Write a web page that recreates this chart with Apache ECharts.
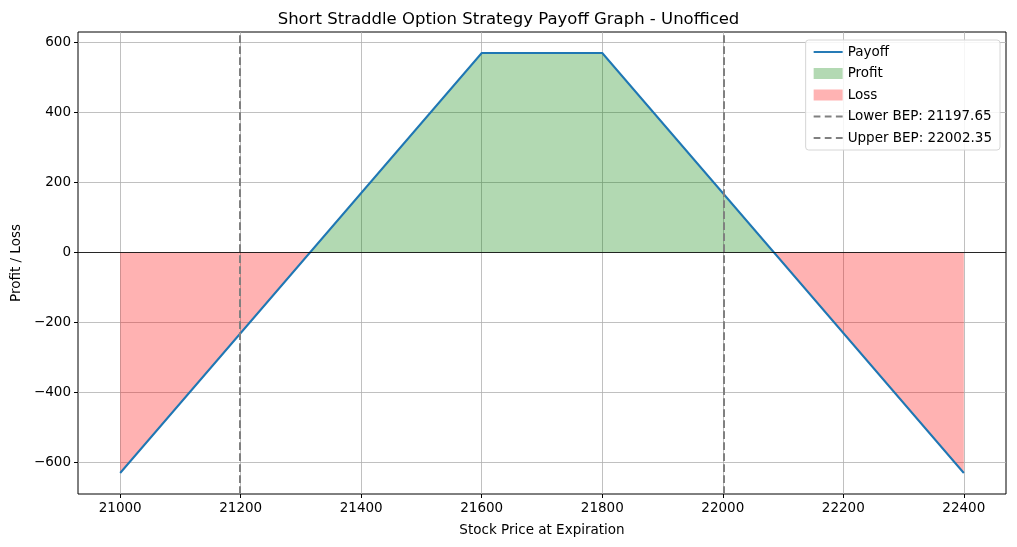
<!DOCTYPE html>
<html><head><meta charset="utf-8">
<script src="https://cdn.jsdelivr.net/npm/echarts@6/dist/echarts.min.js"></script>
<style>html,body{margin:0;padding:0;background:#fff}#c{width:1017px;height:547px}</style>
</head><body><div id="c"></div>
<script>
// Payoff vertices (price, P/L)
const prices = [21000, 21315, 21600, 21800, 22085, 22400];
const payoff = [-630, 0, 570, 570, 0, -630];
const profitPrices = [21315, 21600, 21800, 22085];
const profitVals = [0, 570, 570, 0];
const lossLeftPrices = [21000, 21315];
const lossLeftVals = [-630, 0];
const lossRightPrices = [22085, 22400];
const lossRightVals = [0, -630];
const lowerBEP = 21197.65;
const upperBEP = 22002.35;
const xTicks = [21000, 21200, 21400, 21600, 21800, 22000, 22200, 22400];
const yTicks = [-600, -400, -200, 0, 200, 400, 600];

const zip = (a, b) => a.map((v, i) => [v, b[i]]);
const font = 'DejaVu Sans';
const fmt = v => String(v).replace('-', '\u2212');
const dash = [7.7, 3.3];
const dashIcon = 'path://M0,5L7,5L7,7.2L0,7.2ZM11.5,5L18.5,5L18.5,7.2L11.5,7.2ZM23,5L30,5L30,7.2L23,7.2Z';

const chart = echarts.init(document.getElementById('c'), null, {renderer: 'canvas'});
const lossData = zip(lossLeftPrices, lossLeftVals).concat([null], zip(lossRightPrices, lossRightVals));
chart.setOption({
  animation: false,
  backgroundColor: '#fff',
  title: {text: 'Short Straddle Option Strategy Payoff Graph - Unofficed', left: 'center', top: 6,
    textStyle: {fontFamily: font, fontSize: 16.5, fontWeight: 'normal', color: '#000'}},
  grid: {left: 78, right: 11, top: 32, bottom: 53, show: true, borderColor: '#000', borderWidth: 1, backgroundColor: 'transparent'},
  legend: {
    orient: 'vertical', right: 17, top: 40, itemGap: 7.5, itemWidth: 29, itemHeight: 11,
    backgroundColor: 'rgba(255,255,255,0.85)', borderColor: '#d6d6d6', borderWidth: 1, borderRadius: 3,
    padding: [5, 8, 5, 8],
    textStyle: {fontFamily: font, fontSize: 13.5, color: '#000'},
    data: [
      {name: 'Payoff', icon: 'path://M0,5L30,5L30,7L0,7Z'},
      {name: 'Profit', icon: 'rect'},
      {name: 'Loss', icon: 'rect'},
      {name: 'Lower BEP: 21197.65', icon: dashIcon, itemStyle: {color: '#808080'}},
      {name: 'Upper BEP: 22002.35', icon: dashIcon, itemStyle: {color: '#808080'}}
    ]
  },
  xAxis: {
    type: 'value', min: 20930, max: 22470,
    name: 'Stock Price at Expiration', nameLocation: 'middle', nameGap: 29,
    nameTextStyle: {fontFamily: font, fontSize: 13.5, color: '#000'},
    axisLine: {show: false, onZero: false},
    axisTick: {show: true, length: 4, lineStyle: {color: '#000'}, customValues: xTicks},
    axisLabel: {customValues: xTicks, fontFamily: font, fontSize: 13.5, color: '#000', margin: 7, formatter: fmt},
    splitLine: {show: true, lineStyle: {color: '#b0b0b0', width: 0.8}}
  },
  yAxis: {
    type: 'value', min: -690, max: 630,
    name: 'Profit / Loss', nameLocation: 'middle', nameGap: 54, nameRotate: 90,
    nameTextStyle: {fontFamily: font, fontSize: 13.5, color: '#000'},
    axisLine: {show: false, onZero: false},
    axisTick: {show: true, length: 4, lineStyle: {color: '#000'}, customValues: yTicks},
    axisLabel: {customValues: yTicks, fontFamily: font, fontSize: 13.5, color: '#000', margin: 7, formatter: fmt},
    splitLine: {show: true, lineStyle: {color: '#b0b0b0', width: 0.8}}
  },
  series: [
    {name: 'Profit', type: 'line', data: zip(profitPrices, profitVals), symbol: 'none',
      lineStyle: {width: 0}, itemStyle: {color: 'rgb(179,217,179)', borderColor: 'rgb(179,217,179)'},
      areaStyle: {color: 'rgba(0,128,0,0.3)', opacity: 1, origin: 0}, z: 1},
    {name: 'Loss', type: 'line', data: lossData, connectNulls: false, symbol: 'none',
      lineStyle: {width: 0}, itemStyle: {color: 'rgb(255,179,179)', borderColor: 'rgb(255,179,179)'},
      areaStyle: {color: 'rgba(255,0,0,0.3)', opacity: 1, origin: 0}, z: 1},
    {name: 'zero', type: 'line', data: [], symbol: 'none',
      markLine: {silent: true, symbol: 'none', label: {show: false},
        lineStyle: {color: '#000', width: 0.8, type: 'solid'}, data: [{yAxis: 0}]}, z: 2},
    {name: 'Payoff', type: 'line', data: zip(prices, payoff), symbol: 'none',
      lineStyle: {color: '#1f77b4', width: 2}, itemStyle: {color: '#1f77b4'}, z: 4},
    {name: 'Lower BEP: 21197.65', type: 'line', data: [], symbol: 'none',
      lineStyle: {color: '#808080', width: 2, type: dash}, itemStyle: {color: '#808080'},
      markLine: {silent: true, symbol: 'none', label: {show: false},
        lineStyle: {color: '#808080', width: 2, type: dash}, data: [{xAxis: lowerBEP}]}, z: 3},
    {name: 'Upper BEP: 22002.35', type: 'line', data: [], symbol: 'none',
      lineStyle: {color: '#808080', width: 2, type: dash}, itemStyle: {color: '#808080'},
      markLine: {silent: true, symbol: 'none', label: {show: false},
        lineStyle: {color: '#808080', width: 2, type: dash}, data: [{xAxis: upperBEP}]}, z: 3}
  ]
});
</script></body></html>
